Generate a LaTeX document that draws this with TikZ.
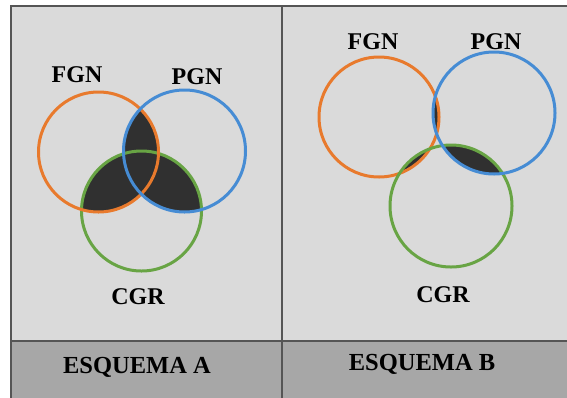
\documentclass[tikz,border=0pt]{standalone}
\usepackage{fontspec}
\setmainfont{Liberation Serif}
\definecolor{panelbg}{RGB}{218,218,218}
\definecolor{bandbg}{RGB}{167,167,167}
\definecolor{framecol}{RGB}{85,85,85}
\definecolor{fgncol}{RGB}{232,122,45}
\definecolor{pgncol}{RGB}{70,140,212}
\definecolor{cgrcol}{RGB}{104,164,68}
\definecolor{overlap}{RGB}{48,48,48}
\tikzset{
  ring/.style={line width=3pt},
  setlabel/.style={font=\fontsize{24}{24}\selectfont\bfseries, inner sep=0pt},
  caption/.style={font=\fontsize{24.5}{24.5}\selectfont\bfseries, inner sep=0pt},
}
\begin{document}
\begin{tikzpicture}[x=1pt,y=-1pt]
\useasboundingbox (0,0) rectangle (567,397);
% panels and caption band
\fill[panelbg] (11,6) rectangle (570,341);
\fill[bandbg] (11,341) rectangle (570,400);
\draw[framecol, line width=2pt] (570,6) -- (11,6) -- (11,400);
\draw[framecol, line width=2.5pt] (11,341) -- (570,341);
\draw[framecol, line width=2pt] (282,6) -- (282,400);

% ---- Esquema A ----
\coordinate (fa) at (98.5,152);
\coordinate (pa) at (184.5,151);
\coordinate (ca) at (141.5,211);
\begin{scope}\clip (fa) circle (60); \fill[overlap] (pa) circle (61);\end{scope}
\begin{scope}\clip (fa) circle (60); \fill[overlap] (ca) circle (60);\end{scope}
\begin{scope}\clip (pa) circle (61); \fill[overlap] (ca) circle (60);\end{scope}
\draw[ring, cgrcol] (ca) circle (60);
\draw[ring, fgncol] (fa) circle (60);
\draw[ring, pgncol] (pa) circle (61);
\node[setlabel] (fgnA) at (77,75) {FGN};
\node[setlabel] (pgnA) at (197,77) {PGN};
\node[setlabel] (cgrA) at (138,297) {CGR};
\node[caption] (capA) at (137,367) {ESQUEMA A};

% ---- Esquema B ----
\coordinate (fb) at (379,117);
\coordinate (pb) at (494,113);
\coordinate (cb) at (451,206);
\begin{scope}\clip (fb) circle (60); \fill[overlap] (pb) circle (61);\end{scope}
\begin{scope}\clip (fb) circle (60); \fill[overlap] (cb) circle (61);\end{scope}
\begin{scope}\clip (pb) circle (61); \fill[overlap] (cb) circle (61);\end{scope}
\draw[ring, fgncol] (fb) circle (60);
\draw[ring, cgrcol] (cb) circle (61);
\draw[ring, pgncol] (pb) circle (61);
\node[setlabel] (fgnB) at (373,42) {FGN};
\node[setlabel] (pgnB) at (496,42) {PGN};
\node[setlabel] (cgrB) at (443,295) {CGR};
\node[caption] (capB) at (422,364) {ESQUEMA B};
\end{tikzpicture}
\end{document}
